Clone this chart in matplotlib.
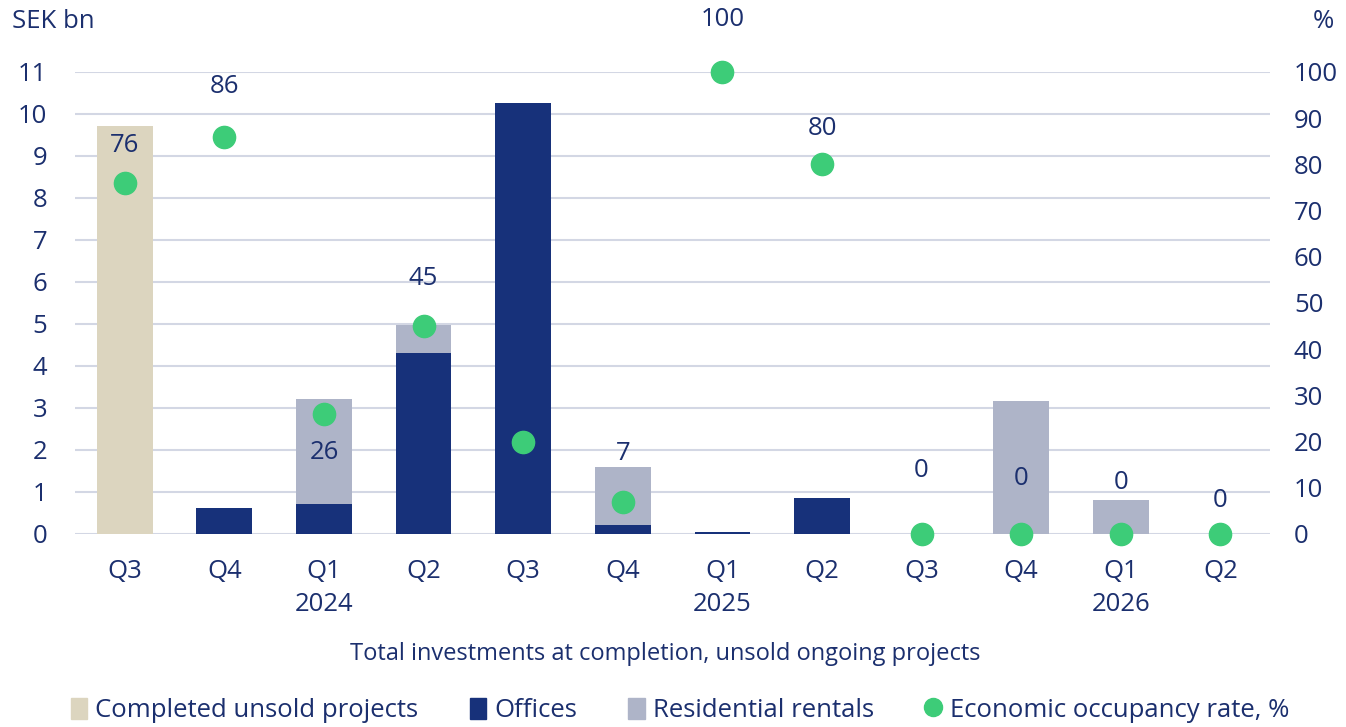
import matplotlib.pyplot as plt
from matplotlib.patches import Patch
from matplotlib.lines import Line2D

# quarters on the x axis, year printed under the middle quarter
quarters = ["Q3", "Q4", "Q1\n2024", "Q2", "Q3", "Q4", "Q1\n2025", "Q2", "Q3", "Q4", "Q1\n2026", "Q2"]

# SEK bn per category
completed = [9.72, 0, 0, 0, 0, 0, 0, 0, 0, 0, 0, 0]
offices = [0, 0.62, 0.72, 4.31, 10.26, 0.21, 0.05, 0.86, 0, 0, 0, 0]
residential = [0, 0, 2.50, 0.67, 0, 1.39, 0, 0, 0, 3.17, 0.81, 0]

# economic occupancy rate, %
occupancy = [76, 86, 26, 45, 20, 7, 100, 80, 0, 0, 0, 0]
occ_labels = ["76", "86", "26", "45", "", "7", "100", "80", "0", "0", "0", "0"]

navy = "#1b2f6e"
c_completed = "#dcd5bf"
c_offices = "#17317a"
c_resid = "#aeb4c8"
c_green = "#3dcc78"
c_grid = "#d3d7e4"

plt.rcParams["font.family"] = ["Open Sans", "DejaVu Sans"]

fig = plt.figure(figsize=(13.46, 7.27), dpi=100)
ax = fig.add_axes([0.0557, 0.2655, 0.888, 0.6355])
ax2 = ax.twinx()

x = list(range(len(quarters)))
w = 0.56
ax.bar(x, completed, w, color=c_completed, zorder=2)
ax.bar(x, offices, w, color=c_offices, zorder=2)
ax.bar(x, residential, w, bottom=offices, color=c_resid, zorder=2)

ax.set_xlim(-0.5, 11.5)
ax.set_ylim(0, 11)
ax.set_yticks(range(0, 12))
ax.grid(axis="y", color=c_grid, linewidth=1.5, zorder=0)
ax.set_axisbelow(True)
ax.set_xticks(x)
ax.set_xticklabels(quarters, linespacing=1.4)
ax.tick_params(axis="x", length=0, pad=18, labelsize=18.5, labelcolor=navy)
ax.tick_params(axis="y", length=0, pad=20, labelsize=18.5, labelcolor=navy)
for lab in ax.get_yticklabels():
    lab.set_horizontalalignment("right")

ax2.set_ylim(0, 100)
ax2.set_yticks(range(0, 101, 10))
ax2.tick_params(axis="y", length=0, pad=17, labelsize=18.5, labelcolor=navy)
ax2.plot(x, occupancy, "o", color=c_green, markersize=16, clip_on=False, zorder=5)

# label offsets in points (the 26 sits under its dot)
offsets = [27, 36, -28, 34, 0, 35, 38, 26, 46, 40, 37, 24]
for xi, v, lab, off in zip(x, occupancy, occ_labels, offsets):
    if lab:
        ax2.annotate(lab, (xi, v), xytext=(0, off), textcoords="offset points",
                     ha="center", va="center", fontsize=18.5, color=navy,
                     annotation_clip=False)

for a in (ax, ax2):
    for s in a.spines.values():
        s.set_visible(False)

fig.text(0.009, 0.97, "SEK bn", fontsize=18.5, color=navy, ha="left", va="center")
fig.text(0.991, 0.97, "%", fontsize=18.5, color=navy, ha="right", va="center")
fig.text(0.494, 0.101, "Total investments at completion, unsold ongoing projects",
         fontsize=17, color=navy, ha="center", va="center")

handles = [
    Patch(color=c_completed, label="Completed unsold projects"),
    Patch(color=c_offices, label="Offices"),
    Patch(color=c_resid, label="Residential rentals"),
    Line2D([], [], marker="o", linestyle="", color=c_green, markersize=13,
           label="Economic occupancy rate, %"),
]
leg = fig.legend(handles=handles, loc="center", bbox_to_anchor=(0.505, 0.023), ncol=4,
                 frameon=False, fontsize=18.5, handlelength=0.65, handleheight=0.9,
                 handletextpad=0.3, columnspacing=2.0)
for t in leg.get_texts():
    t.set_color(navy)

fig.savefig("out.png", dpi=100)
